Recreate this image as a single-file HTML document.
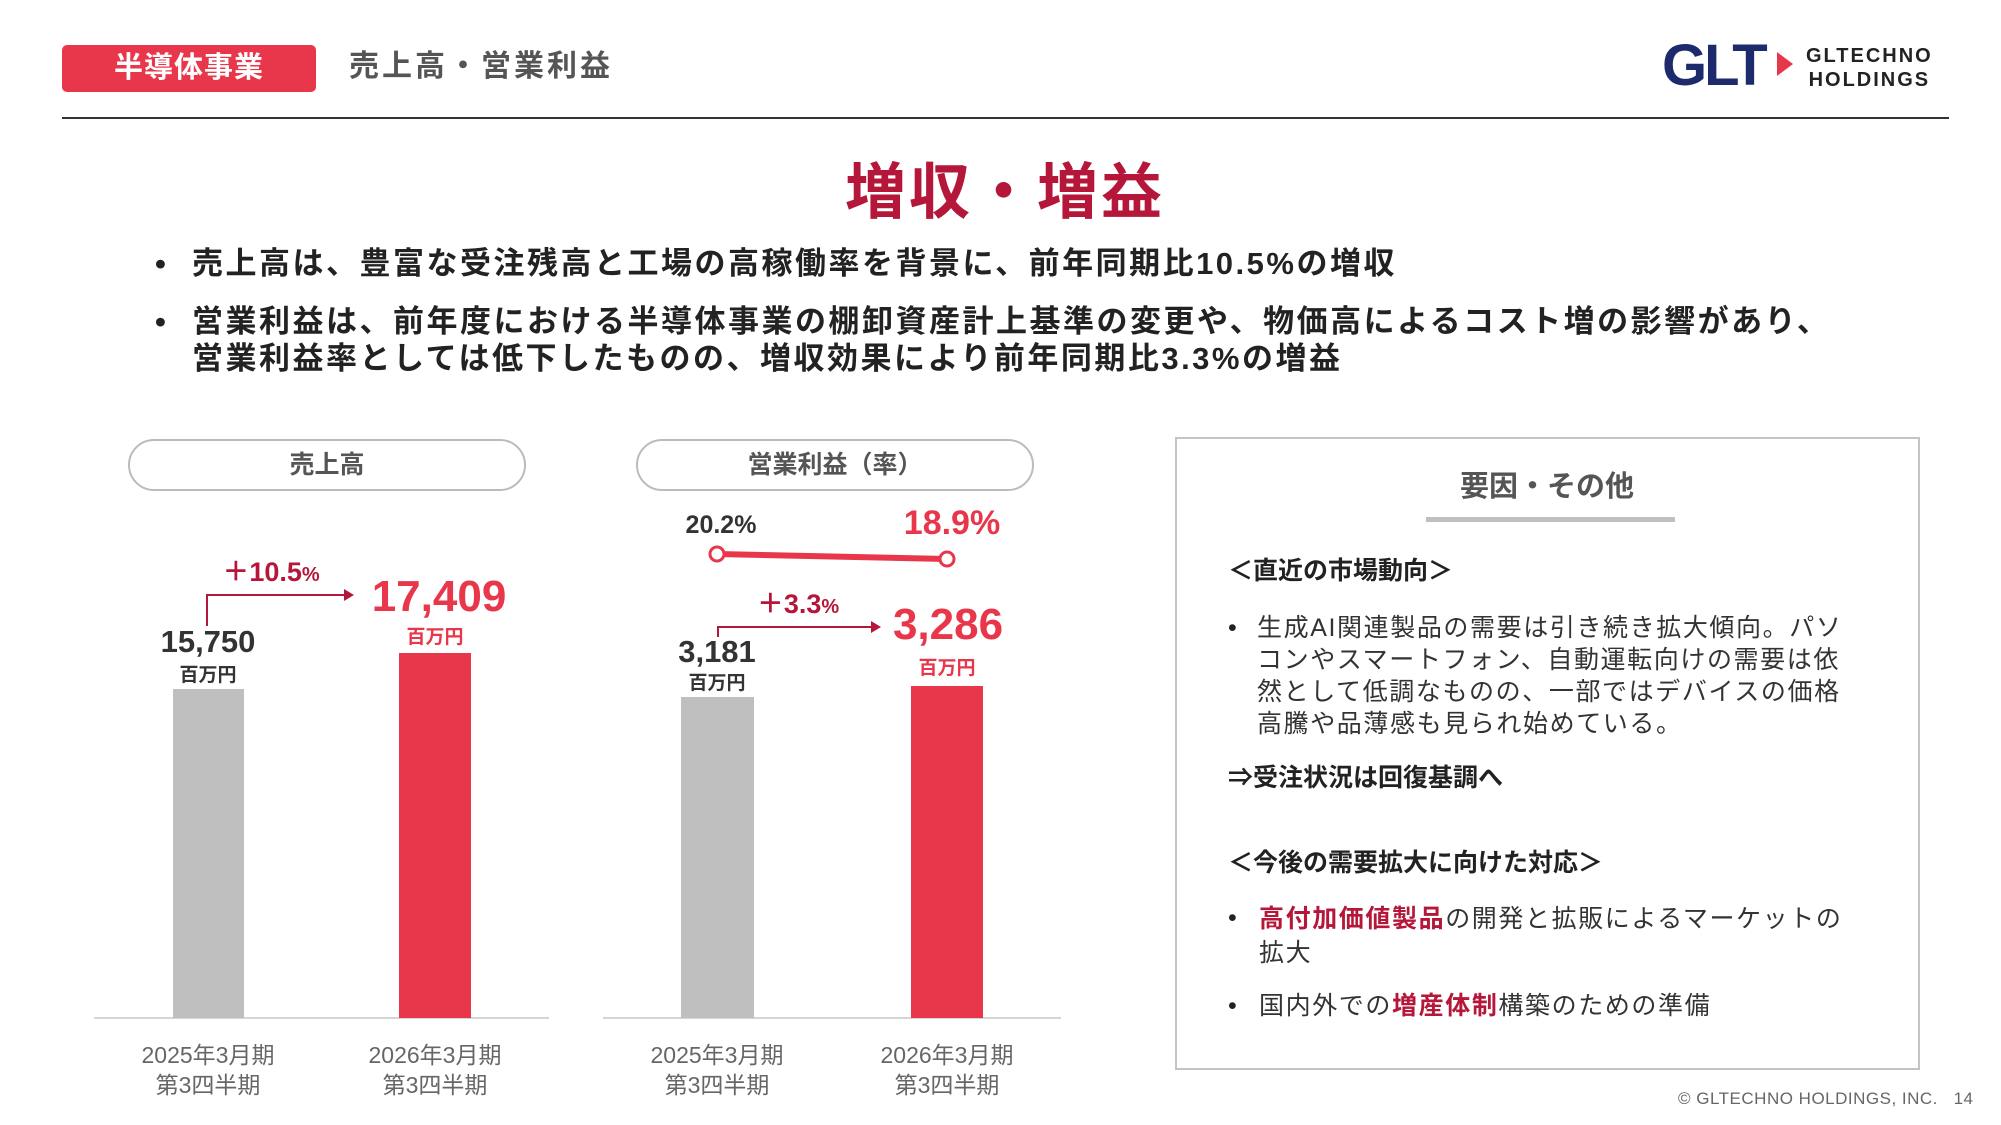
<!DOCTYPE html>
<html><head><meta charset="utf-8"><style>
*{margin:0;padding:0;box-sizing:border-box}
body{width:2001px;height:1125px;background:#fff;position:relative;overflow:hidden;font-family:"Liberation Sans","Noto Sans CJK JP",sans-serif;color:#222}
.a{position:absolute;white-space:nowrap}
.c{transform:translateX(-50%);text-align:center}
.red{color:#e8364a}.dred{color:#b5173a}
.bar{position:absolute;bottom:107px}
</style></head><body>
<div class="a" style="left:62px;top:45px;width:254px;height:47px;background:#e8364a;border-radius:5px;color:#fff;font-size:29px;font-weight:bold;text-align:center;line-height:47px;letter-spacing:1px">半導体事業</div>
<div class="a" style="left:349px;top:47px;font-size:30px;color:#555;font-weight:bold;line-height:40px;letter-spacing:3px">売上高・営業利益</div>
<div class="a" style="left:1662px;top:36px;font-size:58px;font-weight:bold;color:#1d2a6b;letter-spacing:-3px;line-height:60px">GLT</div>
<div class="a" style="left:1777px;top:52px;width:0;height:0;border-top:12px solid transparent;border-bottom:12px solid transparent;border-left:16px solid #e8364a"></div>
<div class="a" style="left:1806px;top:44px;font-size:20px;font-weight:bold;color:#222;letter-spacing:2px;line-height:24px;text-align:center">GLTECHNO<br>HOLDINGS</div>
<div class="a" style="left:62px;top:117px;width:1887px;height:2px;background:#333"></div>
<div class="a c dred" style="left:1005px;top:152px;font-size:61px;font-weight:bold;line-height:80px;letter-spacing:3px">増収・増益</div>
<div class="a" style="left:155px;top:245px;font-size:31px;font-weight:bold;line-height:38px">•</div>
<div class="a" style="left:192px;top:245px;font-size:31px;font-weight:bold;line-height:38px;letter-spacing:2.5px">売上高は、豊富な受注残高と工場の高稼働率を背景に、前年同期比10.5%の増収</div>
<div class="a" style="left:155px;top:303px;font-size:31px;font-weight:bold;line-height:37px">•</div>
<div class="a" style="left:192px;top:303px;font-size:31px;font-weight:bold;line-height:37px;letter-spacing:2.5px">営業利益は、前年度における半導体事業の棚卸資産計上基準の変更や、物価高によるコスト増の影響があり、<br>営業利益率としては低下したものの、増収効果により前年同期比3.3%の増益</div>

<!-- chart 1 -->
<div class="a" style="left:128px;top:439px;width:398px;height:52px;border:2px solid #bbb;border-radius:26px;text-align:center;line-height:48px;font-size:25px;color:#555;font-weight:bold">売上高</div>
<div class="a" style="left:94px;top:1017px;width:455px;height:2px;background:#d5d5d5"></div>
<div class="bar" style="left:173px;width:71px;top:689px;height:329px;background:#bfbfbf"></div>
<div class="bar" style="left:399px;width:72px;top:653px;height:365px;background:#e8364a"></div>
<div class="a c" style="left:208px;top:622px;font-size:31px;font-weight:bold;color:#333;line-height:40px">15,750</div>
<div class="a c" style="left:208px;top:660px;font-size:19px;font-weight:bold;color:#333">百万円</div>
<div class="a c red" style="left:439px;top:570px;font-size:44px;font-weight:bold;line-height:54px">17,409</div>
<div class="a c red" style="left:435px;top:622px;font-size:19px;font-weight:bold">百万円</div>
<div class="a c dred" style="left:271px;top:556px;font-size:27px;font-weight:bold;line-height:32px">＋10.5<span style="font-size:20px">%</span></div>
<div class="a" style="left:206px;top:594px;width:2px;height:32px;background:#b5173a"></div>
<div class="a" style="left:206px;top:594px;width:140px;height:2px;background:#b5173a"></div>
<div class="a" style="left:344px;top:589px;border-top:6px solid transparent;border-bottom:6px solid transparent;border-left:10px solid #b5173a"></div>
<div class="a c" style="left:208px;top:1040px;font-size:23px;color:#666;line-height:30px">2025年3月期<br>第3四半期</div>
<div class="a c" style="left:435px;top:1040px;font-size:23px;color:#666;line-height:30px">2026年3月期<br>第3四半期</div>

<!-- chart 2 -->
<div class="a" style="left:636px;top:439px;width:398px;height:52px;border:2px solid #bbb;border-radius:26px;text-align:center;line-height:48px;font-size:25px;color:#555;font-weight:bold">営業利益（率）</div>
<div class="a" style="left:603px;top:1017px;width:458px;height:2px;background:#d5d5d5"></div>
<div class="bar" style="left:681px;width:73px;top:697px;height:321px;background:#bfbfbf"></div>
<div class="bar" style="left:911px;width:72px;top:686px;height:332px;background:#e8364a"></div>
<div class="a c" style="left:721px;top:509px;font-size:25px;font-weight:bold;color:#333;line-height:32px">20.2%</div>
<div class="a c red" style="left:952px;top:503px;font-size:34px;font-weight:bold;line-height:40px">18.9%</div>
<svg class="a" style="left:700px;top:540px" width="270" height="35"><line x1="17" y1="14" x2="247" y2="19" stroke="#e8364a" stroke-width="6"/><circle cx="17" cy="14" r="7" fill="#fff" stroke="#e8364a" stroke-width="3"/><circle cx="247" cy="19" r="7" fill="#fff" stroke="#e8364a" stroke-width="3"/></svg>
<div class="a c dred" style="left:798px;top:588px;font-size:27px;font-weight:bold;line-height:32px">＋3.3<span style="font-size:20px">%</span></div>
<div class="a" style="left:717px;top:626px;width:2px;height:11px;background:#b5173a"></div>
<div class="a" style="left:717px;top:626px;width:156px;height:2px;background:#b5173a"></div>
<div class="a" style="left:871px;top:621px;border-top:6px solid transparent;border-bottom:6px solid transparent;border-left:10px solid #b5173a"></div>
<div class="a c" style="left:717px;top:632px;font-size:31px;font-weight:bold;color:#333;line-height:40px">3,181</div>
<div class="a c" style="left:717px;top:668px;font-size:19px;font-weight:bold;color:#333">百万円</div>
<div class="a c red" style="left:948px;top:598px;font-size:44px;font-weight:bold;line-height:54px">3,286</div>
<div class="a c red" style="left:947px;top:653px;font-size:19px;font-weight:bold">百万円</div>
<div class="a c" style="left:717px;top:1040px;font-size:23px;color:#666;line-height:30px">2025年3月期<br>第3四半期</div>
<div class="a c" style="left:947px;top:1040px;font-size:23px;color:#666;line-height:30px">2026年3月期<br>第3四半期</div>

<!-- right box -->
<div class="a" style="left:1175px;top:437px;width:745px;height:633px;border:2px solid #c4c4c4"></div>
<div class="a c" style="left:1547px;top:468px;font-size:29px;font-weight:bold;color:#555;line-height:38px">要因・その他</div>
<div class="a" style="left:1426px;top:517px;width:249px;height:5px;background:#bfbfbf"></div>
<div class="a" style="left:1228px;top:555px;font-size:25px;font-weight:bold;line-height:32px">＜直近の市場動向＞</div>
<div class="a" style="left:1228px;top:612px;font-size:25px;line-height:32px">•</div>
<div class="a" style="left:1257px;top:612px;font-size:25px;line-height:32px;color:#333;letter-spacing:1.6px">生成AI関連製品の需要は引き続き拡大傾向。パソ<br>コンやスマートフォン、自動運転向けの需要は依<br>然として低調なものの、一部ではデバイスの価格<br>高騰や品薄感も見られ始めている。</div>
<div class="a" style="left:1228px;top:762px;font-size:25px;font-weight:bold;line-height:32px">⇒受注状況は回復基調へ</div>
<div class="a" style="left:1228px;top:847px;font-size:25px;font-weight:bold;line-height:32px">＜今後の需要拡大に向けた対応＞</div>
<div class="a" style="left:1228px;top:902px;font-size:25px;line-height:32px">•</div>
<div class="a" style="left:1259px;top:902px;font-size:25px;line-height:34px;color:#333;letter-spacing:1.6px"><b class="dred">高付加価値製品</b>の開発と拡販によるマーケットの<br>拡大</div>
<div class="a" style="left:1228px;top:990px;font-size:25px;line-height:32px">•</div>
<div class="a" style="left:1259px;top:990px;font-size:25px;line-height:32px;color:#333;letter-spacing:1.6px">国内外での<b class="dred">増産体制</b>構築のための準備</div>
<div class="a" style="left:1678px;top:1089px;font-size:17px;color:#666;letter-spacing:0.5px">© GLTECHNO HOLDINGS, INC.&nbsp;&nbsp;&nbsp;14</div>
</body></html>
